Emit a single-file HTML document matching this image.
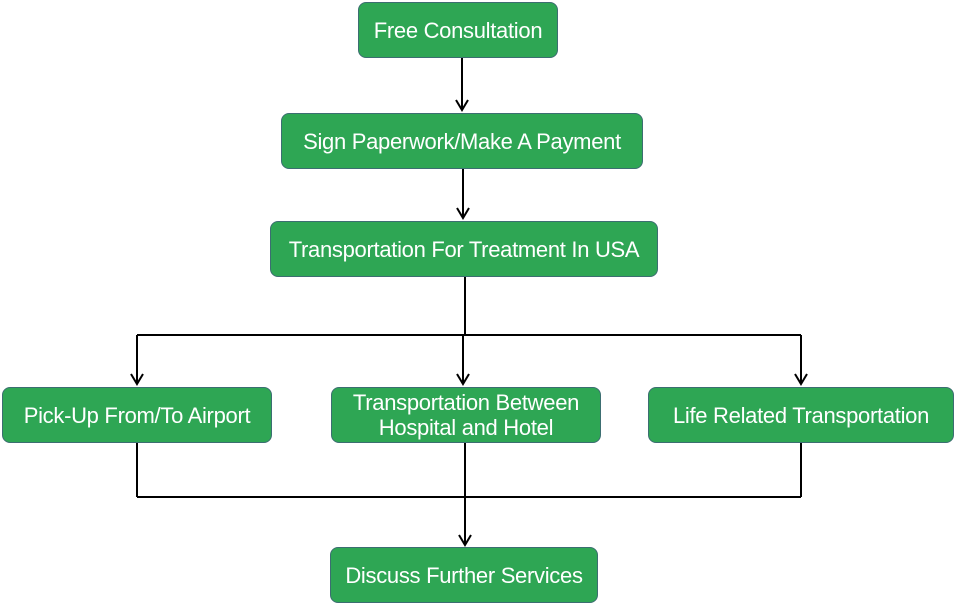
<!DOCTYPE html>
<html><head><meta charset="utf-8"><style>
body{margin:0;width:956px;height:604px;background:#fff;position:relative;overflow:hidden;font-family:"Liberation Sans",sans-serif}
.b{position:absolute;box-sizing:border-box;background:#2ea654;border:1.5px solid #3c6e71;border-radius:8px;color:#fff;font-size:22px;display:flex;align-items:center;justify-content:center;text-align:center;line-height:25px;letter-spacing:-0.3px;white-space:nowrap}
svg{position:absolute;left:0;top:0}
</style></head><body>
<svg width="956" height="604">
<g stroke="#000" stroke-width="2" fill="none">
<line x1="462" y1="58" x2="462" y2="110"/><polyline points="456,100 462,110 468,100"/>
<line x1="463" y1="169" x2="463" y2="218"/><polyline points="457,208 463,218 469,208"/>
<line x1="465" y1="277" x2="465" y2="335"/>
<line x1="137" y1="335" x2="801" y2="335"/>
<line x1="137" y1="335" x2="137" y2="384"/><polyline points="131,374 137,384 143,374"/>
<line x1="463" y1="335" x2="463" y2="384"/><polyline points="457,374 463,384 469,374"/>
<line x1="801" y1="335" x2="801" y2="384"/><polyline points="795,374 801,384 807,374"/>
<line x1="137" y1="443" x2="137" y2="497"/>
<line x1="801" y1="443" x2="801" y2="497"/>
<line x1="137" y1="497" x2="801" y2="497"/>
<line x1="465" y1="443" x2="465" y2="545"/><polyline points="459,535 465,545 471,535"/>
</g></svg>
<div class="b" style="left:358px;top:2px;width:200px;height:56px">Free Consultation</div>
<div class="b" style="left:281px;top:113px;width:362px;height:56px">Sign Paperwork/Make A Payment</div>
<div class="b" style="left:270px;top:221px;width:388px;height:56px">Transportation For Treatment In USA</div>
<div class="b" style="left:2px;top:387px;width:270px;height:56px">Pick-Up From/To Airport</div>
<div class="b" style="left:331px;top:387px;width:270px;height:56px">Transportation Between<br>Hospital and Hotel</div>
<div class="b" style="left:648px;top:387px;width:306px;height:56px">Life Related Transportation</div>
<div class="b" style="left:330px;top:547px;width:268px;height:56px">Discuss Further Services</div>
</body></html>
